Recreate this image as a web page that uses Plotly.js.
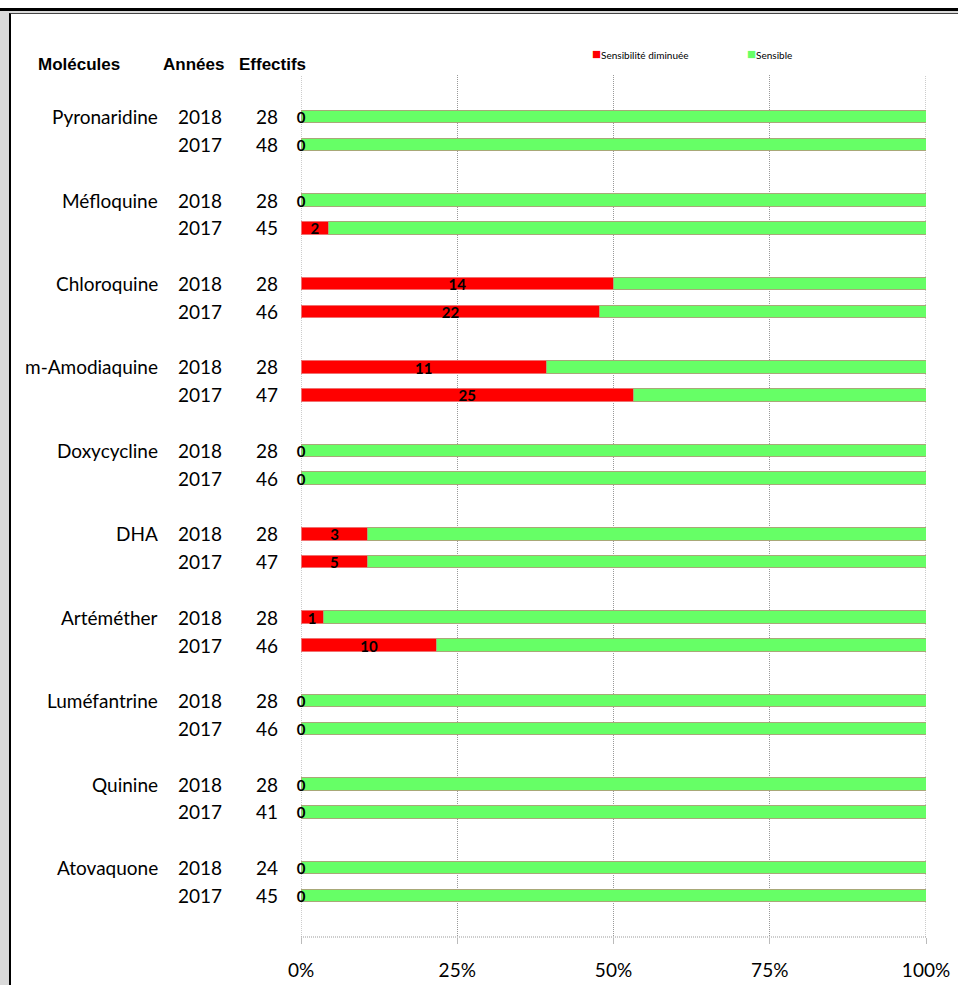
<!DOCTYPE html>
<html>
<head>
<meta charset="utf-8">
<script src="https://cdn.plot.ly/plotly-3.0.1.min.js"></script>
<style>
  html, body { margin:0; padding:0; }
  body { width:958px; height:985px; position:relative; overflow:hidden; background:#fff; }
  #topbar { position:absolute; left:0; top:8px; width:958px; height:3px; background:#000; }
  #gray { position:absolute; left:0; top:11px; width:958px; height:974px; background:#d9d9d9; }
  #white { position:absolute; left:9px; top:13px; width:960px; height:980px; background:#fff; border-left:2px solid #000; border-top:1px solid #444; }
  #plot { position:absolute; left:0; top:0; width:958px; height:985px; }
</style>
</head>
<body>
<div id="topbar"></div>
<div id="gray"></div>
<div id="white"></div>
<div id="plot"></div>
<script>
// ---- Data ----
const molecules = ['Pyronaridine','Méfloquine','Chloroquine','m-Amodiaquine','Doxycycline','DHA','Artéméther','Luméfantrine','Quinine','Atovaquone'];
const years = ['2018','2017'];
const effectifs2018 = [28,28,28,28,28,28,28,28,28,24];
const effectifs2017 = [48,45,46,47,46,47,46,46,41,45];
const diminuee2018 = [0,0,14,11,0,3,1,0,0,0];
const diminuee2017 = [0,2,22,25,0,5,10,0,0,0];
const tickVals = [0,25,50,75,100];
const tickLabels = ['0%','25%','50%','75%','100%'];
const seriesNames = ['Sensibilité diminuée','Sensible'];
const headers = ['Molécules','Années','Effectifs'];

// ---- Build rows (each molecule: 2018 row, 2017 row, blank slot) ----
const slotY = [], redPct = [], greenPct = [], counts = [], totals = [], yearLab = [];
molecules.forEach((m, i) => {
  [[diminuee2018[i], effectifs2018[i], years[0]], [diminuee2017[i], effectifs2017[i], years[1]]].forEach((r, j) => {
    slotY.push(3*i + j);
    const p = r[0] / r[1] * 100;
    redPct.push(p);
    greenPct.push(100 - p);
    counts.push(r[0]);
    totals.push(r[1]);
    yearLab.push(r[2]);
  });
});

// pixel helpers for layout placement (plot area x: 301..926, y: 75..937)
const L = 301, R = 926, T = 75, B = 937;
const px = v => (v - L) / (R - L);
const py = v => (B - v) / (B - T);

const labelFont = {family:'Lato, "Open Sans", sans-serif', size:19, color:'#000'};
const dotLine = {color:'#999', width:1, dash:'1px,1px'};

const traces = [
  {type:'bar', orientation:'h', name:seriesNames[0], y:slotY, x:redPct, width:0.45,
   marker:{color:'#ff0000', line:{color:'#f07070', width:1}}, hoverinfo:'skip', showlegend:false},
  {type:'bar', orientation:'h', name:seriesNames[1], y:slotY, x:greenPct, width:0.45,
   marker:{color:'#66ff66', line:{color:'#a8a878', width:1}}, hoverinfo:'skip', showlegend:false},
  {type:'scatter', mode:'text', y:slotY.map(v => v + 0.1), x:redPct.map(p => p/2), text:counts.map(String),
   textposition:'middle center', cliponaxis:false,
   textfont:{family:'Lato, "Open Sans", sans-serif', size:15, color:'#000', weight:'bold'},
   hoverinfo:'skip', showlegend:false}
];

const annotations = [];
slotY.forEach((y, k) => {
  if (k % 2 === 0) {
    annotations.push({xref:'paper', yref:'y', x:px(160), y:y, xanchor:'right', yanchor:'middle',
      text:molecules[k/2], showarrow:false, font:labelFont});
  }
  annotations.push({xref:'paper', yref:'y', x:px(200), y:y, xanchor:'center', yanchor:'middle',
    text:yearLab[k], showarrow:false, font:labelFont});
  annotations.push({xref:'paper', yref:'y', x:px(280), y:y, xanchor:'right', yanchor:'middle',
    text:String(totals[k]), showarrow:false, font:labelFont});
});
const hdrFont = {family:'"Liberation Sans", Arial, sans-serif', size:17, color:'#000', weight:'bold'};
[[36, headers[0]], [161, headers[1]], [237, headers[2]]].forEach(h => {
  annotations.push({xref:'paper', yref:'paper', x:px(h[0]), y:py(65), xanchor:'left', yanchor:'middle',
    text:'<b>'+h[1]+'</b>', showarrow:false, font:hdrFont});
});
const legFont = {family:'Lato, "Open Sans", sans-serif', size:10, color:'#000'};
annotations.push({xref:'paper', yref:'paper', x:px(590), y:py(53), xanchor:'left', yanchor:'middle',
  text:'<span style="color:#ff0000;font-size:15px">■</span>'+seriesNames[0], showarrow:false, font:legFont});
annotations.push({xref:'paper', yref:'paper', x:px(745), y:py(53), xanchor:'left', yanchor:'middle',
  text:'<span style="color:#66ff66;font-size:15px">■</span>'+seriesNames[1], showarrow:false, font:legFont});

const layout = {
  width:958, height:985,
  margin:{l:L, r:958-R, t:T, b:985-B},
  paper_bgcolor:'rgba(0,0,0,0)', plot_bgcolor:'rgba(0,0,0,0)',
  barmode:'stack', bargap:0,
  showlegend:false,
  xaxis:{range:[0,100], tickvals:tickVals, ticktext:tickLabels, showgrid:true, gridcolor:'#999',
    griddash:'1px,1px', gridwidth:1, zeroline:false, showline:false, ticks:'outside', ticklen:6,
    tickcolor:'#bbb', tickfont:labelFont, ticklabelstandoff:10, fixedrange:true},
  yaxis:{range:[29.5,-1.5], showgrid:false, zeroline:false, showticklabels:false, ticks:'', fixedrange:true},
  shapes:[
    {type:'line', xref:'paper', yref:'paper', x0:0, x1:1, y0:0, y1:0, layer:'below', line:dotLine},
    {type:'line', xref:'x', yref:'paper', x0:tickVals[0], x1:tickVals[0], y0:0, y1:1, layer:'below', line:dotLine},
    {type:'line', xref:'x', yref:'paper', x0:tickVals[4], x1:tickVals[4], y0:0, y1:1, layer:'below', line:dotLine}
  ],
  annotations:annotations
};

Plotly.newPlot('plot', traces, layout, {staticPlot:true, displayModeBar:false});
</script>
</body>
</html>
